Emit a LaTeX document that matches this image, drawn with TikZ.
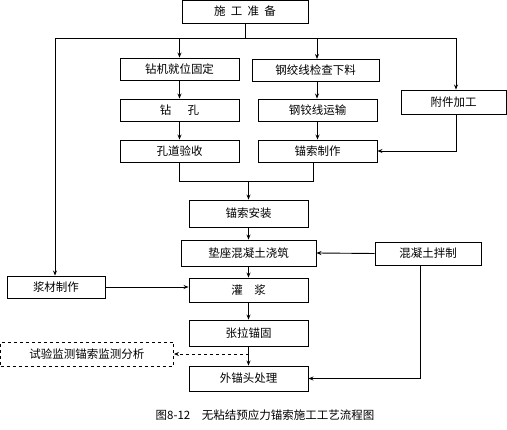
\documentclass[tikz,border=0pt]{standalone}
\usepackage{fontspec}
\setmainfont{Noto Sans CJK SC}
\usetikzlibrary{arrows.meta}
\begin{document}
\begin{tikzpicture}[x=1pt,y=-1pt,
  box/.style={draw,line width=0.9pt,rectangle,inner sep=0pt,font=\fontsize{11.5}{13}\selectfont},
  ln/.style={line width=0.9pt},
  arr/.style={ln,-{Stealth[length=5pt,width=4pt]}}]
\useasboundingbox (0,0) rectangle (507,430);
\node[box,minimum width=126,minimum height=23] (prep) at (245,11.5) {施\hspace{0.45em}工\hspace{0.45em}准\hspace{0.45em}备};
\node[box,minimum width=119,minimum height=22] (zj) at (179.5,69) {钻机就位固定};
\node[box,minimum width=127,minimum height=22] (gj) at (315.5,70) {钢绞线检查下料};
\node[box,minimum width=105,minimum height=24] (fj) at (453.5,102) {附件加工};
\node[box,minimum width=119,minimum height=22] (zk) at (179.5,110) {钻\hspace{1.4em}孔};
\node[box,minimum width=119,minimum height=22] (ys) at (317.5,110) {钢铰线运输};
\node[box,minimum width=119,minimum height=22] (kd) at (179.5,151) {孔道验收};
\node[box,minimum width=119,minimum height=22] (mz) at (317.5,151) {锚索制作};
\node[box,minimum width=119,minimum height=27] (az) at (248.5,213.5) {锚索安装};
\node[box,minimum width=135,minimum height=26] (dz) at (248.5,253) {垫座混凝土浇筑};
\node[box,minimum width=106,minimum height=23] (hn) at (428,253.5) {混凝土拌制};
\node[box,minimum width=119,minimum height=24] (gjn) at (248.5,290) {灌\hspace{1em}浆};
\node[box,minimum width=98,minimum height=22] (jc) at (56,287) {浆材制作};
\node[box,minimum width=119,minimum height=26] (zl) at (248.5,333) {张拉锚固};
\node[box,minimum width=119,minimum height=25] (wm) at (248.5,378.5) {外锚头处理};
\node[box,dashed,minimum width=173,minimum height=24] (sy) at (87,354) {试验监测锚索监测分析};
\node[font=\fontsize{11.5}{13}\selectfont,inner sep=0pt] (cap) at (265,415) {图8-12\hspace{1em}无粘结预应力锚索施工工艺流程图};
% top distribution
\coordinate (t) at (245,38);
\coordinate (tl) at (55,38);
\coordinate (tr) at (456,38);
\draw[ln] (prep.south) -- (t);
\draw[ln] (tl) -- (tr);
\draw[arr] (zj.north |- t) -- (zj.north);
\draw[arr] (317,38) -- (317,59);
\draw[arr] (tr) -- (tr |- fj.north);
\draw[arr] (tl) -- (tl |- jc.north);
% columns
\draw[arr] (zj.south) -- (zk.north);
\draw[arr] (317,81) -- (ys.north -| 317,0);
\draw[arr] (zk.south) -- (kd.north);
\draw[arr] (ys.south) -- (mz.north);
\draw[arr] (tr |- fj.south) |- (mz.east);
% merge
\coordinate (m) at (248.5,181);
\draw[ln] (kd.south) |- (m);
\draw[ln] (m) -| ([xshift=-4]mz.south);
\draw[arr] (m) -- (az.north);
\draw[arr] (az.south) -- (dz.north);
\draw[arr] (hn.west) -- (dz.east);
\draw[arr] (dz.south) -- (gjn.north);
\draw[arr] (jc.east) -- (jc.east -| gjn.west);
\draw[arr] (gjn.south) -- (zl.north);
\draw[arr] (zl.south) -- (wm.north);
\draw[arr] ([xshift=-8]hn.south) |- (wm.east);
\draw[arr,dashed] (zl.south |- sy.east) -- (sy.east);
\end{tikzpicture}
\end{document}
